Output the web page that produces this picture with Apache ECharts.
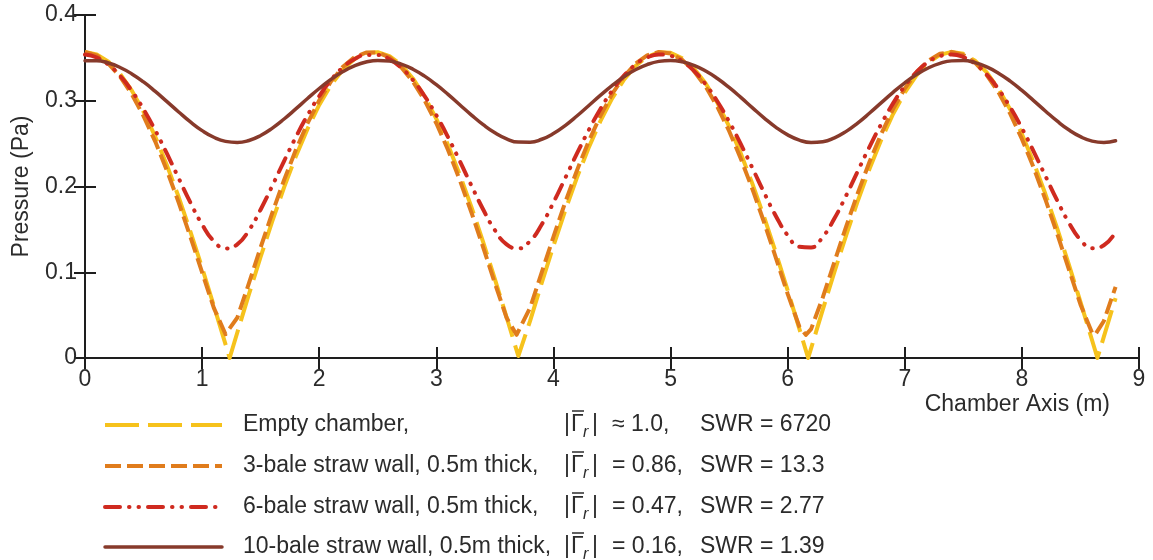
<!DOCTYPE html>
<html>
<head>
<meta charset="utf-8">
<script src="https://cdn.jsdelivr.net/npm/echarts@6/dist/echarts.min.js"></script>
<style>
  html, body { margin: 0; padding: 0; background: #fff; }
  #chart { width: 1153px; height: 560px; }
</style>
</head>
<body>
<div id="chart"></div>
<script>
// Position along the chamber axis (m)
const position = [
  0, 0.1, 0.2, 0.3, 0.4, 0.5, 0.6, 0.7, 0.8, 0.9,
  1.0, 1.1, 1.2, 1.3, 1.4, 1.5, 1.6, 1.7, 1.8, 1.9,
  2.0, 2.1, 2.2, 2.3, 2.4, 2.5, 2.6, 2.7, 2.8, 2.9,
  3.0, 3.1, 3.2, 3.3, 3.4, 3.5, 3.6, 3.7, 3.8, 3.9,
  4.0, 4.1, 4.2, 4.3, 4.4, 4.5, 4.6, 4.7, 4.8, 4.9,
  5.0, 5.1, 5.2, 5.3, 5.4, 5.5, 5.6, 5.7, 5.8, 5.9,
  6.0, 6.1, 6.2, 6.3, 6.4, 6.5, 6.6, 6.7, 6.8, 6.9,
  7.0, 7.1, 7.2, 7.3, 7.4, 7.5, 7.6, 7.7, 7.8, 7.9,
  8.0, 8.1, 8.2, 8.3, 8.4, 8.5, 8.6, 8.7, 8.8
];

// Pressure magnitude (Pa), empty chamber
const emptyChamber = [
  0.3570, 0.3541, 0.3455, 0.3313, 0.3118, 0.2872, 0.2581, 0.2246, 0.1877, 0.1475,
  0.1051, 0.0610, 0.0159, 0.0295, 0.0744, 0.1181, 0.1598, 0.1990, 0.2351, 0.2672,
  0.2951, 0.3182, 0.3361, 0.3487, 0.3556, 0.3567, 0.3521, 0.3418, 0.3260, 0.3049,
  0.2789, 0.2484, 0.2138, 0.1759, 0.1351, 0.0920, 0.0475, 0.0023, 0.0430, 0.0876,
  0.1308, 0.1719, 0.2102, 0.2450, 0.2760, 0.3025, 0.3241, 0.3405, 0.3514, 0.3565,
  0.3560, 0.3496, 0.3377, 0.3202, 0.2976, 0.2702, 0.2384, 0.2028, 0.1639, 0.1224,
  0.0789, 0.0340, 0.0113, 0.0565, 0.1007, 0.1434, 0.1837, 0.2210, 0.2547, 0.2845,
  0.3095, 0.3296, 0.3443, 0.3535, 0.3570, 0.3547, 0.3466, 0.3330, 0.3140, 0.2899,
  0.2612, 0.2282, 0.1915, 0.1517, 0.1095, 0.0655, 0.0204, 0.0249, 0.0699
];
// Pressure nodes of the empty chamber
const emptyNodePos = [1.235, 3.705, 6.175, 8.645];
const emptyNodeVal = [0, 0, 0, 0];

// 3-bale straw wall
const bale3 = [
  0.3569, 0.3529, 0.3432, 0.3280, 0.3076, 0.2821, 0.2524, 0.2185, 0.1813, 0.1414,
  0.0998, 0.0584, 0.0277, 0.0469, 0.0872, 0.1291, 0.1696, 0.2076, 0.2426, 0.2737,
  0.3004, 0.3224, 0.3392, 0.3506, 0.3563, 0.3563, 0.3506, 0.3392, 0.3224, 0.3004,
  0.2737, 0.2426, 0.2076, 0.1696, 0.1291, 0.0872, 0.0469, 0.0277, 0.0584, 0.0998,
  0.1414, 0.1813, 0.2185, 0.2524, 0.2821, 0.3076, 0.3280, 0.3432, 0.3529, 0.3569,
  0.3552, 0.3477, 0.3347, 0.3164, 0.2929, 0.2648, 0.2324, 0.1966, 0.1577, 0.1166,
  0.0748, 0.0366, 0.0337, 0.0706, 0.1124, 0.1536, 0.1928, 0.2291, 0.2617, 0.2903,
  0.3142, 0.3331, 0.3467, 0.3547, 0.3570, 0.3535, 0.3444, 0.3298, 0.3099, 0.2850,
  0.2555, 0.2221, 0.1852, 0.1455, 0.1040, 0.0625, 0.0292, 0.0432, 0.0830
];
const bale3MinPos = [1.215, 3.685, 6.155, 8.625];
const bale3MinVal = [0.027, 0.027, 0.027, 0.027];

// 6-bale straw wall
const bale6 = [
  0.3539, 0.3504, 0.3421, 0.3290, 0.3115, 0.2901, 0.2654, 0.2382, 0.2096, 0.1813,
  0.1557, 0.1364, 0.1278, 0.1325, 0.1490, 0.1732, 0.2010, 0.2297, 0.2575, 0.2830,
  0.3055, 0.3242, 0.3386, 0.3484, 0.3534, 0.3534, 0.3484, 0.3386, 0.3242, 0.3055,
  0.2830, 0.2575, 0.2297, 0.2010, 0.1732, 0.1490, 0.1325, 0.1278, 0.1364, 0.1557,
  0.1813, 0.2096, 0.2382, 0.2654, 0.2901, 0.3115, 0.3290, 0.3421, 0.3504, 0.3539,
  0.3524, 0.3460, 0.3348, 0.3190, 0.2991, 0.2757, 0.2493, 0.2212, 0.1925, 0.1654,
  0.1431, 0.1297, 0.1290, 0.1413, 0.1629, 0.1896, 0.2183, 0.2466, 0.2731, 0.2969,
  0.3172, 0.3334, 0.3451, 0.3520, 0.3540, 0.3510, 0.3431, 0.3305, 0.3135, 0.2925,
  0.2680, 0.2410, 0.2125, 0.1841, 0.1581, 0.1380, 0.1281, 0.1314, 0.1470
];

// 10-bale straw wall
const bale10 = [
  0.3467, 0.3467, 0.3440, 0.3388, 0.3313, 0.3219, 0.3109, 0.2990, 0.2869, 0.2753,
  0.2652, 0.2574, 0.2526, 0.2513, 0.2537, 0.2595, 0.2681, 0.2787, 0.2905, 0.3026,
  0.3143, 0.3249, 0.3338, 0.3406, 0.3451, 0.3470, 0.3462, 0.3427, 0.3368, 0.3287,
  0.3187, 0.3074, 0.2953, 0.2833, 0.2721, 0.2626, 0.2556, 0.2518, 0.2517, 0.2551,
  0.2618, 0.2711, 0.2822, 0.2942, 0.3062, 0.3177, 0.3278, 0.3361, 0.3422, 0.3459,
  0.3470, 0.3454, 0.3412, 0.3346, 0.3259, 0.3155, 0.3039, 0.2917, 0.2798, 0.2690,
  0.2602, 0.2541, 0.2514, 0.2523, 0.2568, 0.2643, 0.2742, 0.2857, 0.2978, 0.3098,
  0.3209, 0.3305, 0.3382, 0.3436, 0.3465, 0.3468, 0.3444, 0.3395, 0.3322, 0.3229,
  0.3120, 0.3002, 0.2881, 0.2764, 0.2661, 0.2581, 0.2529, 0.2513, 0.2533
];

// Legend texts
const caseNames = [
  'Empty chamber,',
  '3-bale straw wall, 0.5m thick,',
  '6-bale straw wall, 0.5m thick,',
  '10-bale straw wall, 0.5m thick,'
];
const gammaTexts = ['\u2248 1.0,', '= 0.86,', '= 0.47,', '= 0.16,'];
const swrTexts = ['SWR = 6720', 'SWR = 13.3', 'SWR = 2.77', 'SWR = 1.39'];

const FONT = '"Liberation Sans", Arial, Helvetica, sans-serif';
const TEXT_COLOR = '#2b2b2b';
const AXIS_COLOR = '#1e1e1e';

function pairs(xs, ys, extraX, extraY) {
  const pts = xs.map((x, i) => [x, ys[i]]);
  if (extraX) extraX.forEach((x, i) => pts.push([x, extraY[i]]));
  pts.sort((a, b) => a[0] - b[0]);
  return pts;
}

const styles = [
  { color: '#F6C21C', width: 4, type: [34, 9], cap: 'butt' },
  { color: '#E07C1C', width: 4, type: [16, 6], cap: 'butt' },
  { color: '#CF2A1F', width: 4, type: [15, 9, 0.5, 9, 0.5, 9], cap: 'round' },
  { color: '#873A2B', width: 3.5, type: 'solid', cap: 'round' }
];

const seriesData = [
  pairs(position, emptyChamber, emptyNodePos, emptyNodeVal),
  pairs(position, bale3, bale3MinPos, bale3MinVal),
  pairs(position, bale6),
  pairs(position, bale10)
];
const smoothFlags = [false, false, true, true];

const series = seriesData.map((d, i) => ({
  type: 'line',
  data: d,
  showSymbol: false,
  smooth: smoothFlags[i],
  clip: true,
  z: 2 + i,
  lineStyle: {
    color: styles[i].color,
    width: styles[i].width,
    type: styles[i].type,
    cap: styles[i].cap,
    join: 'round'
  }
}));

// Legend block drawn underneath the plot
const graphic = [];
const rowY = [425, 466, 507, 547];
rowY.forEach((y, i) => {
  const s = styles[i];
  graphic.push({
    type: 'line',
    shape: { x1: 105, y1: y, x2: 222, y2: y },
    style: {
      stroke: s.color, lineWidth: s.width,
      lineDash: Array.isArray(s.type) ? s.type : null,
      lineCap: s.cap
    }
  });
  const txt = (x, str) => ({
    type: 'text', x: x, y: y,
    style: {
      text: str, fill: TEXT_COLOR, font: '23px ' + FONT,
      textAlign: 'left', textVerticalAlign: 'middle', verticalAlign: 'middle'
    }
  });
  graphic.push(txt(243, caseNames[i]));
  graphic.push(txt(564, '|'));
  graphic.push(txt(571, '\u0393'));
  graphic.push({
    type: 'line',
    shape: { x1: 572, y1: y - 14, x2: 584, y2: y - 14 },
    style: { stroke: TEXT_COLOR, lineWidth: 1.5 }
  });
  graphic.push({
    type: 'text', x: 583, y: y + 8,
    style: {
      text: 'r', fill: TEXT_COLOR, font: 'italic 16px ' + FONT,
      textAlign: 'left', textVerticalAlign: 'middle', verticalAlign: 'middle'
    }
  });
  graphic.push(txt(592, '|'));
  graphic.push(txt(612, gammaTexts[i]));
  graphic.push(txt(700, swrTexts[i]));
});
graphic.push({
  type: 'text', x: 1110, y: 405,
  style: {
    text: 'Chamber Axis (m)', fill: TEXT_COLOR, font: '23px ' + FONT,
    textAlign: 'right', textVerticalAlign: 'middle', verticalAlign: 'middle'
  }
});

const axisLine = { show: true, lineStyle: { color: AXIS_COLOR, width: 2 } };
const axisTick = { show: true, inside: true, length: 11, lineStyle: { color: AXIS_COLOR, width: 2 } };
const axisLabel = { fontSize: 23, color: TEXT_COLOR, fontFamily: FONT };

const option = {
  animation: false,
  backgroundColor: '#ffffff',
  grid: { left: 85, right: 14, top: 15, bottom: 202, containLabel: false },
  xAxis: [
    {
      type: 'value', min: 0, max: 9, interval: 1, position: 'bottom',
      axisLine, axisTick, splitLine: { show: false },
      axisLabel: Object.assign({ margin: 10 }, axisLabel)
    },
    {
      type: 'value', min: 0, max: 9, interval: 1, position: 'top',
      axisLine, axisTick, splitLine: { show: false },
      axisLabel: { show: false }
    }
  ],
  yAxis: [
    {
      type: 'value', min: 0, max: 0.4, interval: 0.1, position: 'left',
      axisLine, axisTick, splitLine: { show: false },
      axisLabel: Object.assign({ margin: 8 }, axisLabel),
      name: 'Pressure (Pa)', nameLocation: 'middle', nameGap: 52,
      nameTextStyle: { fontSize: 23, color: TEXT_COLOR, fontFamily: FONT }
    },
    {
      type: 'value', min: 0, max: 0.4, interval: 0.1, position: 'right',
      axisLine, axisTick, splitLine: { show: false },
      axisLabel: { show: false }
    }
  ],
  series: series,
  graphic: graphic
};

const chart = echarts.init(document.getElementById('chart'), null, { renderer: 'canvas' });
chart.setOption(option);
</script>
</body>
</html>
